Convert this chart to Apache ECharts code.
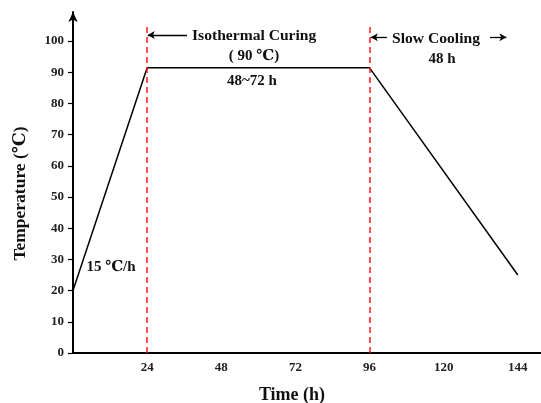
<!DOCTYPE html>
<html>
<head>
<meta charset="utf-8">
<script src="https://cdn.jsdelivr.net/npm/echarts@6/dist/echarts.min.js"></script>
<style>html,body{margin:0;padding:0;background:#fff}#c{width:541px;height:403px}</style>
</head>
<body>
<div id="c"></div>
<script>
// Data
var timeH = [0, 24, 96, 144];
var tempC = [20, 91.4, 91.4, 25];
var phaseBoundaries = [24, 96];
var xTicks = [24, 48, 72, 96, 120, 144];
var yTicks = [0, 10, 20, 30, 40, 50, 60, 70, 80, 90, 100];

var FONT = '"Liberation Serif", "DejaVu Serif", serif';
var chart = echarts.init(document.getElementById('c'), null, {renderer: 'canvas'});

var lineData = timeH.map(function (t, i) { return [t, tempC[i]]; });

chart.setOption({
  animation: false,
  grid: {left: 73, right: 0, top: 12, bottom: 50, outerBoundsMode: 'none', containLabel: false},
  xAxis: {
    type: 'value', min: 0, max: 151.5, interval: 24,
    name: 'Time (h)', nameLocation: 'middle', nameGap: 33,
    nameTextStyle: {fontFamily: FONT, fontWeight: 'bold', fontSize: 18, color: '#111', padding: [0, 30, 0, 0]},
    axisLine: {lineStyle: {color: '#000', width: 2}},
    axisTick: {show: false},
    splitLine: {show: false},
    axisLabel: {fontFamily: FONT, fontWeight: 'bold', fontSize: 13, color: '#222', margin: 8,
      customValues: xTicks}
  },
  yAxis: {
    type: 'value', min: 0, max: 109.3, interval: 10,
    name: 'Temperature (℃)', nameLocation: 'middle', nameGap: 44,
    nameTextStyle: {fontFamily: FONT, fontWeight: 'bold', fontSize: 17.5, color: '#111', padding: [0, 22, 0, 0]},
    axisLine: {show: true, symbol: ['none', 'arrow'], symbolSize: [7, 10], symbolOffset: [0, 0],
      lineStyle: {color: '#000', width: 2}},
    axisTick: {show: true, length: 5, customValues: yTicks, lineStyle: {color: '#000', width: 1.2}},
    splitLine: {show: false},
    axisLabel: {fontFamily: FONT, fontWeight: 'bold', fontSize: 13, color: '#222', margin: 9,
      customValues: yTicks}
  },
  series: [
    {
      type: 'line', data: lineData, symbol: 'none', silent: true,
      lineStyle: {color: '#000', width: 1.5}
    },
    {
      type: 'line', data: [], silent: true,
      markLine: {
        silent: true, symbol: ['none', 'none'], label: {show: false},
        lineStyle: {color: '#ff1a1a', type: [6, 4], width: 1.5},
        data: phaseBoundaries.map(function (b) { return [{coord: [b, 0]}, {coord: [b, 105.4]}]; })
      }
    },
    {
      type: 'line', data: [], silent: true,
      markLine: {
        silent: true, symbol: ['arrow', 'none'], symbolSize: [6, 7], label: {show: false},
        lineStyle: {color: '#000', type: 'solid', width: 1.3},
        data: [
          [{coord: [24.2, 101.9]}, {coord: [36.9, 101.9]}],
          [{coord: [96.4, 101.2]}, {coord: [101.6, 101.2]}]
        ]
      }
    },
    {
      type: 'line', data: [], silent: true,
      markLine: {
        silent: true, symbol: ['none', 'arrow'], symbolSize: [6, 7], label: {show: false},
        lineStyle: {color: '#000', type: 'solid', width: 1.3},
        data: [
          [{coord: [135, 101.2]}, {coord: [140.3, 101.2]}]
        ]
      }
    }
  ],
  graphic: [
    {type: 'text', left: 192, top: 28, style: {text: 'Isothermal Curing', font: 'bold 15.6px ' + FONT, fill: '#111'}},
    {type: 'text', x: 254, y: 56, style: {text: '( 90 ℃)', font: 'bold 15px ' + FONT, fill: '#111', align: 'center', verticalAlign: 'middle'}},
    {type: 'text', x: 252, y: 81, style: {text: '48~72 h', font: 'bold 15px ' + FONT, fill: '#111', align: 'center', verticalAlign: 'middle'}},
    {type: 'text', left: 392, top: 31, style: {text: 'Slow Cooling', font: 'bold 15.6px ' + FONT, fill: '#111'}},
    {type: 'text', x: 442, y: 59, style: {text: '48 h', font: 'bold 15px ' + FONT, fill: '#111', align: 'center', verticalAlign: 'middle'}},
    {type: 'text', x: 111, y: 267, style: {text: '15 ℃/h', font: 'bold 15px ' + FONT, fill: '#111', align: 'center', verticalAlign: 'middle'}}
  ]
});
</script>
</body>
</html>
